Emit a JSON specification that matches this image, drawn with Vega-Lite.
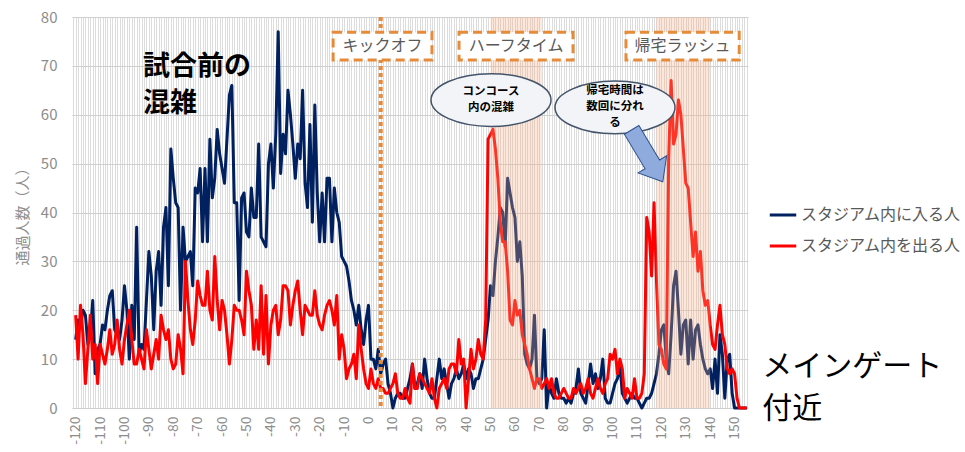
{
"$schema": "https://vega.github.io/schema/vega-lite/v6.json",
"width": 676, "height": 391,
"autosize": {"type": "none"},
"padding": {"left": 72, "top": 17, "right": 217, "bottom": 44},
"config": {"view": {"stroke": null}, "font": "Noto Sans CJK JP"},
"datasets": {
"flow": [
{"t":-120,"a":14,"b":19},{"t":-119,"a":18,"b":10},{"t":-118,"a":17,"b":21},{"t":-117,"a":20,"b":15},{"t":-116,"a":19,"b":5},{"t":-115,"a":13,"b":12},{"t":-114,"a":15,"b":19},{"t":-113,"a":22,"b":10},{"t":-112,"a":7,"b":13},{"t":-111,"a":12,"b":5},
{"t":-110,"a":13,"b":13},{"t":-109,"a":17,"b":11},{"t":-108,"a":16,"b":9},{"t":-107,"a":20,"b":12},{"t":-106,"a":23,"b":16},{"t":-105,"a":24,"b":11},{"t":-104,"a":16,"b":13},{"t":-103,"a":15,"b":18},{"t":-102,"a":14,"b":12},{"t":-101,"a":18,"b":9},
{"t":-100,"a":25,"b":14},{"t":-99,"a":20,"b":17},{"t":-98,"a":10,"b":20},{"t":-97,"a":21,"b":14},{"t":-96,"a":14,"b":9},{"t":-95,"a":37,"b":9},{"t":-94,"a":11,"b":12},{"t":-93,"a":13,"b":10},{"t":-92,"a":12,"b":8},{"t":-91,"a":22,"b":16},
{"t":-90,"a":32,"b":12},{"t":-89,"a":27,"b":8},{"t":-88,"a":16,"b":11},{"t":-87,"a":28,"b":14},{"t":-86,"a":32,"b":10},{"t":-85,"a":21,"b":19},{"t":-84,"a":37,"b":16},{"t":-83,"a":41,"b":14},{"t":-82,"a":25,"b":16},{"t":-81,"a":53,"b":10},
{"t":-80,"a":47,"b":8},{"t":-79,"a":42,"b":9},{"t":-78,"a":41,"b":15},{"t":-77,"a":20,"b":12},{"t":-76,"a":37,"b":7},{"t":-75,"a":30,"b":30},{"t":-74,"a":31,"b":22},{"t":-73,"a":32,"b":16},{"t":-72,"a":25,"b":13},{"t":-71,"a":45,"b":18},
{"t":-70,"a":44,"b":26},{"t":-69,"a":49,"b":23},{"t":-68,"a":34,"b":21},{"t":-67,"a":49,"b":21},{"t":-66,"a":34,"b":28},{"t":-65,"a":55,"b":20},{"t":-64,"a":43,"b":18},{"t":-63,"a":47,"b":31},{"t":-62,"a":57,"b":22},{"t":-61,"a":52,"b":16},
{"t":-60,"a":49,"b":22},{"t":-59,"a":46,"b":20},{"t":-58,"a":55,"b":15},{"t":-57,"a":64,"b":9},{"t":-56,"a":66,"b":14},{"t":-55,"a":42,"b":21},{"t":-54,"a":42,"b":20},{"t":-53,"a":22,"b":20},{"t":-52,"a":43,"b":18},{"t":-51,"a":44,"b":15},
{"t":-50,"a":36,"b":28},{"t":-49,"a":35,"b":24},{"t":-48,"a":45,"b":21},{"t":-47,"a":39,"b":12},{"t":-46,"a":39,"b":18},{"t":-45,"a":54,"b":12},{"t":-44,"a":35,"b":25},{"t":-43,"a":34,"b":11},{"t":-42,"a":33,"b":23},{"t":-41,"a":50,"b":9},
{"t":-40,"a":54,"b":17},{"t":-39,"a":45,"b":20},{"t":-38,"a":56,"b":21},{"t":-37,"a":77,"b":15},{"t":-36,"a":48,"b":18},{"t":-35,"a":56,"b":25},{"t":-34,"a":52,"b":25},{"t":-33,"a":65,"b":24},{"t":-32,"a":60,"b":17},{"t":-31,"a":54,"b":21},
{"t":-30,"a":47,"b":24},{"t":-29,"a":54,"b":26},{"t":-28,"a":51,"b":20},{"t":-27,"a":65,"b":15},{"t":-26,"a":46,"b":21},{"t":-25,"a":41,"b":20},{"t":-24,"a":58,"b":19},{"t":-23,"a":38,"b":19},{"t":-22,"a":62,"b":24},{"t":-21,"a":44,"b":19},
{"t":-20,"a":34,"b":17},{"t":-19,"a":44,"b":16},{"t":-18,"a":34,"b":19},{"t":-17,"a":47,"b":21},{"t":-16,"a":47,"b":22},{"t":-15,"a":34,"b":20},{"t":-14,"a":45,"b":17},{"t":-13,"a":40,"b":23},{"t":-12,"a":38,"b":10},{"t":-11,"a":31,"b":15},
{"t":-10,"a":30,"b":12},{"t":-9,"a":29,"b":6},{"t":-8,"a":26,"b":8},{"t":-7,"a":22,"b":9},{"t":-6,"a":20,"b":11},{"t":-5,"a":17,"b":6},{"t":-4,"a":21,"b":17},{"t":-3,"a":16,"b":12},{"t":-2,"a":13,"b":8},{"t":-1,"a":18,"b":5},
{"t":0,"a":21,"b":4},{"t":1,"a":10,"b":8},{"t":2,"a":10,"b":5},{"t":3,"a":8,"b":4},{"t":4,"a":12,"b":6},{"t":5,"a":7,"b":4},{"t":6,"a":9,"b":4},{"t":7,"a":10,"b":3},{"t":8,"a":5,"b":3},{"t":9,"a":3,"b":4},
{"t":10,"a":0,"b":5},{"t":11,"a":2,"b":7},{"t":12,"a":3,"b":3},{"t":13,"a":3,"b":2},{"t":14,"a":2,"b":2},{"t":15,"a":2,"b":4},{"t":16,"a":4,"b":2},{"t":17,"a":6,"b":1},{"t":18,"a":9,"b":9},{"t":19,"a":4,"b":4},
{"t":20,"a":5,"b":4},{"t":21,"a":7,"b":7},{"t":22,"a":4,"b":6},{"t":23,"a":10,"b":5},{"t":24,"a":6,"b":4},{"t":25,"a":3,"b":3},{"t":26,"a":2,"b":6},{"t":27,"a":2,"b":2},{"t":28,"a":6,"b":0},{"t":29,"a":10,"b":4},
{"t":30,"a":6,"b":5},{"t":31,"a":8,"b":6},{"t":32,"a":5,"b":4},{"t":33,"a":2,"b":8},{"t":34,"a":5,"b":9},{"t":35,"a":6,"b":9},{"t":36,"a":8,"b":7},{"t":37,"a":6,"b":14},{"t":38,"a":7,"b":9},{"t":39,"a":9,"b":10},
{"t":40,"a":6,"b":0},{"t":41,"a":8,"b":6},{"t":42,"a":7,"b":12},{"t":43,"a":4,"b":8},{"t":44,"a":6,"b":10},{"t":45,"a":6,"b":14},{"t":46,"a":8,"b":11},{"t":47,"a":10,"b":10},{"t":48,"a":14,"b":18},{"t":49,"a":18,"b":55},
{"t":50,"a":25,"b":56},{"t":51,"a":23,"b":57},{"t":52,"a":30,"b":53},{"t":53,"a":35,"b":47},{"t":54,"a":41,"b":38},{"t":55,"a":40,"b":34},{"t":56,"a":33,"b":34},{"t":57,"a":47,"b":28},{"t":58,"a":44,"b":18},{"t":59,"a":41,"b":17},
{"t":60,"a":39,"b":22},{"t":61,"a":30,"b":19},{"t":62,"a":34,"b":20},{"t":63,"a":27,"b":15},{"t":64,"a":11,"b":13},{"t":65,"a":9,"b":11},{"t":66,"a":8,"b":8},{"t":67,"a":10,"b":6},{"t":68,"a":19,"b":4},{"t":69,"a":6,"b":6},
{"t":70,"a":5,"b":6},{"t":71,"a":6,"b":4},{"t":72,"a":16,"b":5},{"t":73,"a":0,"b":6},{"t":74,"a":5,"b":4},{"t":75,"a":3,"b":6},{"t":76,"a":2,"b":3},{"t":77,"a":6,"b":2},{"t":78,"a":3,"b":2},{"t":79,"a":2,"b":3},
{"t":80,"a":2,"b":4},{"t":81,"a":1,"b":3},{"t":82,"a":2,"b":2},{"t":83,"a":1,"b":2},{"t":84,"a":3,"b":4},{"t":85,"a":4,"b":3},{"t":86,"a":8,"b":4},{"t":87,"a":3,"b":5},{"t":88,"a":2,"b":3},{"t":89,"a":1,"b":4},
{"t":90,"a":5,"b":6},{"t":91,"a":9,"b":3},{"t":92,"a":5,"b":2},{"t":93,"a":7,"b":4},{"t":94,"a":4,"b":6},{"t":95,"a":6,"b":4},{"t":96,"a":10,"b":3},{"t":97,"a":2,"b":5},{"t":98,"a":1,"b":6},{"t":99,"a":1,"b":11},
{"t":100,"a":3,"b":10},{"t":101,"a":5,"b":12},{"t":102,"a":6,"b":7},{"t":103,"a":9,"b":10},{"t":104,"a":3,"b":8},{"t":105,"a":2,"b":2},{"t":106,"a":1,"b":4},{"t":107,"a":2,"b":3},{"t":108,"a":3,"b":2},{"t":109,"a":2,"b":6},
{"t":110,"a":2,"b":2},{"t":111,"a":1,"b":2},{"t":112,"a":0,"b":3},{"t":113,"a":1,"b":7},{"t":114,"a":2,"b":39},{"t":115,"a":2,"b":36},{"t":116,"a":3,"b":27},{"t":117,"a":5,"b":42},{"t":118,"a":7,"b":26},{"t":119,"a":11,"b":13},
{"t":120,"a":16,"b":12},{"t":121,"a":17,"b":9},{"t":122,"a":10,"b":8},{"t":123,"a":7,"b":51},{"t":124,"a":15,"b":67},{"t":125,"a":25,"b":54},{"t":126,"a":28,"b":56},{"t":127,"a":20,"b":63},{"t":128,"a":11,"b":60},{"t":129,"a":17,"b":53},
{"t":130,"a":18,"b":46},{"t":131,"a":9,"b":45},{"t":132,"a":18,"b":38},{"t":133,"a":10,"b":31},{"t":134,"a":16,"b":36},{"t":135,"a":17,"b":28},{"t":136,"a":13,"b":32},{"t":137,"a":10,"b":24},{"t":138,"a":8,"b":21},{"t":139,"a":7,"b":22},
{"t":140,"a":8,"b":17},{"t":141,"a":4,"b":13},{"t":142,"a":10,"b":12},{"t":143,"a":3,"b":17},{"t":144,"a":15,"b":21},{"t":145,"a":11,"b":15},{"t":146,"a":2,"b":13},{"t":147,"a":10,"b":8},{"t":148,"a":11,"b":7},{"t":149,"a":3,"b":8},
{"t":150,"a":0,"b":7},{"t":151,"a":0,"b":2},{"t":152,"a":0,"b":0},{"t":153,"a":0,"b":0},{"t":154,"a":0,"b":0},{"t":155,"a":0,"b":0}
],
"boxes": [
{"t":-14.5,"t2":26,"v":71.2,"v2":76.9,"tc":5.75,"vc":74.05,"label":"キックオフ"},
{"t":37.1,"t2":83.8,"v":71.2,"v2":76.9,"tc":60.45,"vc":74.05,"label":"ハーフタイム"},
{"t":105.5,"t2":151.9,"v":71.2,"v2":76.9,"tc":128.7,"vc":74.05,"label":"帰宅ラッシュ"}
],
"bubbles": [
{"t":50.2,"v":63.0,"vt":64.75,"label":["コンコース","内の混雑"]},
{"t":101.0,"v":61.5,"vt":64.86,"label":["帰宅時間は","数回に分れ","る"]}
]
},
"layer": [
{
"data": {"name": "flow"},
"transform": [{"fold": ["a", "b"], "as": ["s", "v"]}],
"mark": {"type": "line", "strokeWidth": 3, "strokeJoin": "round"},
"encoding": {
"x": {"field": "t", "type": "quantitative",
 "scale": {"domain": [-121.5, 155.5], "nice": false, "zero": false},
 "axis": {"title": null, "grid": true, "gridColor": "#dcdcdc", "gridWidth": 1, "tickCount": 277, "ticks": false, "domain": false,
  "labelAngle": -90, "labelExpr": "datum.value % 10 === 0 ? '' + datum.value : ''", "labelOverlap": false, "labelFlush": false,
  "labelFontSize": 14, "labelColor": "#8c8c8c", "labelPadding": 8}},
"y": {"field": "v", "type": "quantitative",
 "scale": {"domain": [0, 80], "nice": false},
 "axis": {"title": "通過人数（人）", "tickCount": 8, "grid": true, "gridColor": "#cfcfcf", "ticks": false, "domain": false,
  "labelFontSize": 15, "labelColor": "#8c8c8c", "labelPadding": 15,
  "titleFontSize": 15, "titleColor": "#8c8c8c", "titleFontWeight": "normal", "titlePadding": 10}},
"color": {"field": "s", "type": "nominal",
 "scale": {"domain": ["a", "b"], "range": ["#002060", "#ff0000"]},
 "legend": {"orient": "none", "legendX": 696, "legendY": 183, "title": null, "symbolType": "stroke", "symbolStrokeWidth": 3, "symbolSize": 700,
  "labelFontSize": 16, "labelColor": "#595959", "labelOffset": 3, "rowPadding": 8, "labelLimit": 400,
  "labelExpr": "datum.value === 'a' ? 'スタジアム内に入る人' : 'スタジアム内を出る人'"}}
}
},
{
"data": {"values": [{"t": 50, "t2": 71}, {"t": 118, "t2": 140}]},
"mark": {"type": "rect", "color": "#f4b183", "opacity": 0.3},
"encoding": {"x": {"field": "t", "type": "quantitative"}, "x2": {"field": "t2"}}
},
{
"data": {"values": [{"t": 5}]},
"mark": {"type": "rule", "color": "#e58b3a", "strokeWidth": 4, "strokeDash": [4, 3]},
"encoding": {"x": {"field": "t", "type": "quantitative"}}
},
{
"data": {"name": "boxes"},
"mark": {"type": "rect", "fill": "#ffffff", "stroke": "#e58b3a", "strokeWidth": 3, "strokeDash": [9, 5]},
"encoding": {"x": {"field": "t", "type": "quantitative"}, "x2": {"field": "t2"}, "y": {"field": "v", "type": "quantitative"}, "y2": {"field": "v2"}}
},
{
"data": {"name": "boxes"},
"mark": {"type": "text", "fontSize": 16, "color": "#595959", "align": "center", "baseline": "middle"},
"encoding": {"x": {"field": "tc", "type": "quantitative"}, "y": {"field": "vc", "type": "quantitative"}, "text": {"field": "label"}}
},
{
"data": {"name": "bubbles"},
"mark": {"type": "point", "filled": true, "opacity": 1, "fill": "#f3f4f7", "stroke": "#44546a", "strokeWidth": 1.5, "size": 14400,
 "shape": "M-1,0C-1,-0.24,-0.552,-0.44,0,-0.44C0.552,-0.44,1,-0.24,1,0C1,0.24,0.552,0.44,0,0.44C-0.552,0.44,-1,0.24,-1,0Z"},
"encoding": {"x": {"field": "t", "type": "quantitative"}, "y": {"field": "v", "type": "quantitative"}}
},
{
"data": {"name": "bubbles"},
"mark": {"type": "text", "fontSize": 11.5, "fontWeight": "bold", "color": "#000000", "align": "center", "baseline": "middle", "lineHeight": 16},
"encoding": {"x": {"field": "t", "type": "quantitative"}, "y": {"field": "vt", "type": "quantitative"}, "text": {"field": "label"}}
},
{
"data": {"values": [{"t": 114.2, "v": 51.6}]},
"mark": {"type": "point", "filled": true, "opacity": 1, "fill": "#8faadc", "stroke": "#2f528f", "strokeWidth": 1, "size": 3660, "angle": -31,
 "shape": "M-0.28,-1L0.28,-1L0.28,0.33L0.55,0.33L0,1L-0.55,0.33L-0.28,0.33Z"},
"encoding": {"x": {"field": "t", "type": "quantitative"}, "y": {"field": "v", "type": "quantitative"}}
},
{
"data": {"values": [{"t": -92.4, "v": 69.7, "label": ["試合前の", "混雑"]}]},
"mark": {"type": "text", "fontSize": 27, "fontWeight": "bold", "color": "#000000", "align": "left", "baseline": "middle", "lineHeight": 37},
"encoding": {"x": {"field": "t", "type": "quantitative"}, "y": {"field": "v", "type": "quantitative"}, "text": {"field": "label"}}
},
{
"data": {"values": [{"t": 161.3, "v": 8.4, "label": ["メインゲート", "付近"]}]},
"mark": {"type": "text", "fontSize": 30, "color": "#000000", "align": "left", "baseline": "middle", "lineHeight": 42},
"encoding": {"x": {"field": "t", "type": "quantitative"}, "y": {"field": "v", "type": "quantitative"}, "text": {"field": "label"}}
}
]
}
